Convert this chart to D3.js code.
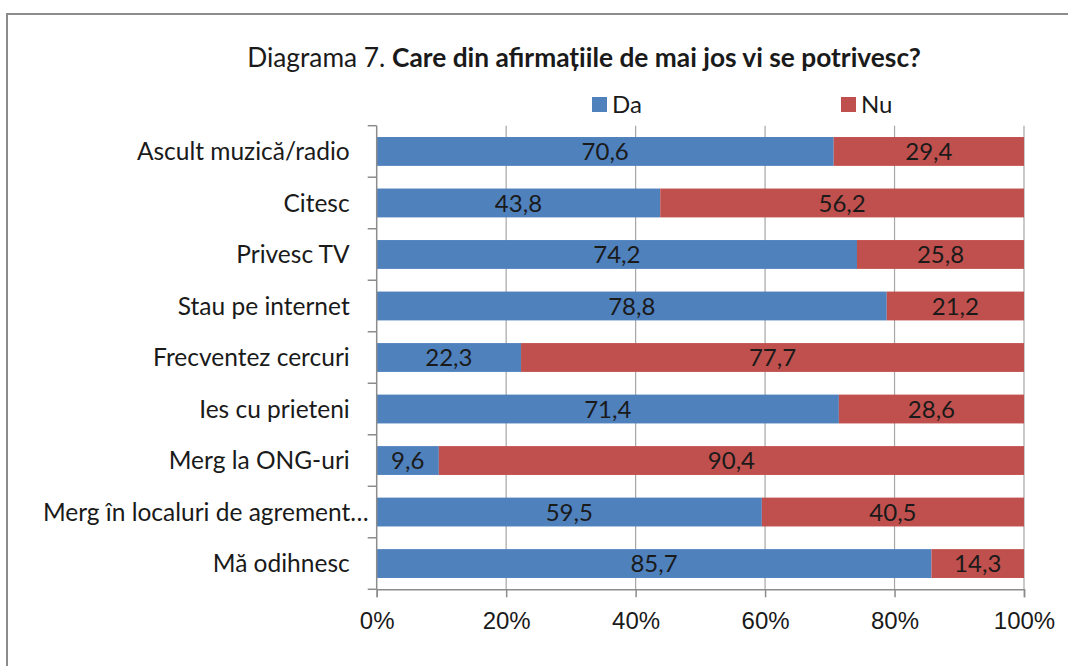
<!DOCTYPE html>
<html lang="ro">
<head>
<meta charset="UTF-8">
<title>Diagrama 7</title>
<script src="https://d3js.org/d3.v7.min.js"></script>
<style>
html, body { margin: 0; padding: 0; background: #fff; }
svg { display: block; font-family: Lato, "Open Sans", sans-serif; }
.cat text, .xax text { fill: #1a1a1a; }
</style>
</head>
<body>
<script>
const categories = [
    'Ascult muzică/radio',
    'Citesc',
    'Privesc TV',
    'Stau pe internet',
    'Frecventez cercuri',
    'Ies cu prieteni',
    'Merg la ONG-uri',
    'Merg în localuri de agrement…',
    'Mă odihnesc'
];
const da = [70.6, 43.8, 74.2, 78.8, 22.3, 71.4, 9.6, 59.5, 85.7];
const nu = [29.4, 56.2, 25.8, 21.2, 77.7, 28.6, 90.4, 40.5, 14.3];
const seriesNames = ['Da', 'Nu'];
const xTicks = [0, 20, 40, 60, 80, 100];

const w = 1068, h = 666;
const plotLeft = 376.7, plotRight = 1024, plotTop = 125.7, plotBottom = 589.3;
const colors = { Da: '#4f81bd', Nu: '#c0504d' };
const grey = '#8c8c8c';
const fs = '24.5px';

const svg = d3.select('body').append('svg').attr('width', w).attr('height', h);

// frame of the chart object (continues past the window)
svg.append('path')
    .attr('d', `M7,${h + 5} V14 H${w + 5}`)
    .attr('fill', 'none').attr('stroke', grey).attr('stroke-width', 2);

const x = d3.scaleLinear().domain([0, 100]).range([plotLeft, plotRight]);
const y = d3.scaleBand().domain(categories).range([plotTop, plotBottom]).paddingInner(0.44).paddingOuter(0.22);

// gridlines
svg.append('g').selectAll('line').data(xTicks.slice(1)).enter().append('line')
    .attr('x1', d => x(d)).attr('x2', d => x(d))
    .attr('y1', plotTop).attr('y2', plotBottom)
    .attr('stroke', '#a6a6a6').attr('stroke-width', 1.2);

// stacked bars
const rows = categories.map((c, i) => ({ cat: c, Da: da[i], Nu: nu[i] }));
const stack = d3.stack().keys(seriesNames)(rows);

const layer = svg.append('g').selectAll('g').data(stack).enter().append('g')
    .attr('fill', d => colors[d.key]);

layer.selectAll('rect').data(d => d).enter().append('rect')
    .attr('x', d => x(d[0]))
    .attr('y', d => y(d.data.cat))
    .attr('width', d => x(d[1]) - x(d[0]))
    .attr('height', y.bandwidth());

// value labels
layer.each(function(s) {
    d3.select(this).selectAll('text').data(s).enter().append('text')
        .attr('x', d => (x(d[0]) + x(d[1])) / 2)
        .attr('y', d => y(d.data.cat) + y.bandwidth() / 2)
        .attr('dy', '0.36em')
        .attr('text-anchor', 'middle')
        .attr('fill', '#1a1a1a')
        .style('font-size', '24px')
        .text(d => d3.format('.1f')(d.data[s.key]).replace('.', ','));
});

// category axis (ticks at band edges)
const edges = d3.range(categories.length + 1).map(i => plotTop + i * y.step());
svg.append('line').attr('x1', plotLeft).attr('x2', plotLeft).attr('y1', plotTop).attr('y2', plotBottom)
    .attr('stroke', grey).attr('stroke-width', 1.5);
svg.append('g').selectAll('line').data(edges).enter().append('line')
    .attr('x1', plotLeft - 9).attr('x2', plotLeft).attr('y1', d => d).attr('y2', d => d)
    .attr('stroke', grey).attr('stroke-width', 1.5);
svg.append('g').attr('class', 'cat').selectAll('text').data(categories).enter().append('text')
    .attr('x', d => d.endsWith('…') ? plotLeft - 8 : plotLeft - 27)
    .attr('y', d => y(d) + y.bandwidth() / 2)
    .attr('dy', '0.36em')
    .attr('text-anchor', 'end')
    .style('font-size', fs)
    .text(d => d);

// value axis
const xAxis = d3.axisBottom(x).tickValues(xTicks).tickSize(8).tickPadding(15)
    .tickFormat(d => d + '%');
const xg = svg.append('g').attr('class', 'xax').attr('transform', `translate(0,${plotBottom})`).call(xAxis);
xg.select('.domain').attr('stroke', grey).attr('stroke-width', 1.5);
xg.selectAll('.tick line').attr('stroke', grey).attr('stroke-width', 1.5);
xg.selectAll('.tick text').style('font-size', '24px').attr('fill', '#1a1a1a');

// title
const title = svg.append('text').attr('x', 584).attr('y', 67).attr('text-anchor', 'middle')
    .style('font-size', '26.3px').attr('fill', '#1a1a1a');
title.append('tspan').text('Diagrama 7. ');
title.append('tspan').style('font-weight', 'bold').text('Care din afirmațiile de mai jos vi se potrivesc?');

// legend
const legendX = { Da: 592, Nu: 841 };
const lg = svg.append('g').selectAll('g').data(seriesNames).enter().append('g')
    .attr('transform', d => `translate(${legendX[d]},97)`);
lg.append('rect').attr('width', 15).attr('height', 15).attr('fill', d => colors[d]);
lg.append('text').attr('x', 20).attr('y', 15.5).style('font-size', '24px').attr('fill', '#1a1a1a').text(d => d);
</script>
</body>
</html>
